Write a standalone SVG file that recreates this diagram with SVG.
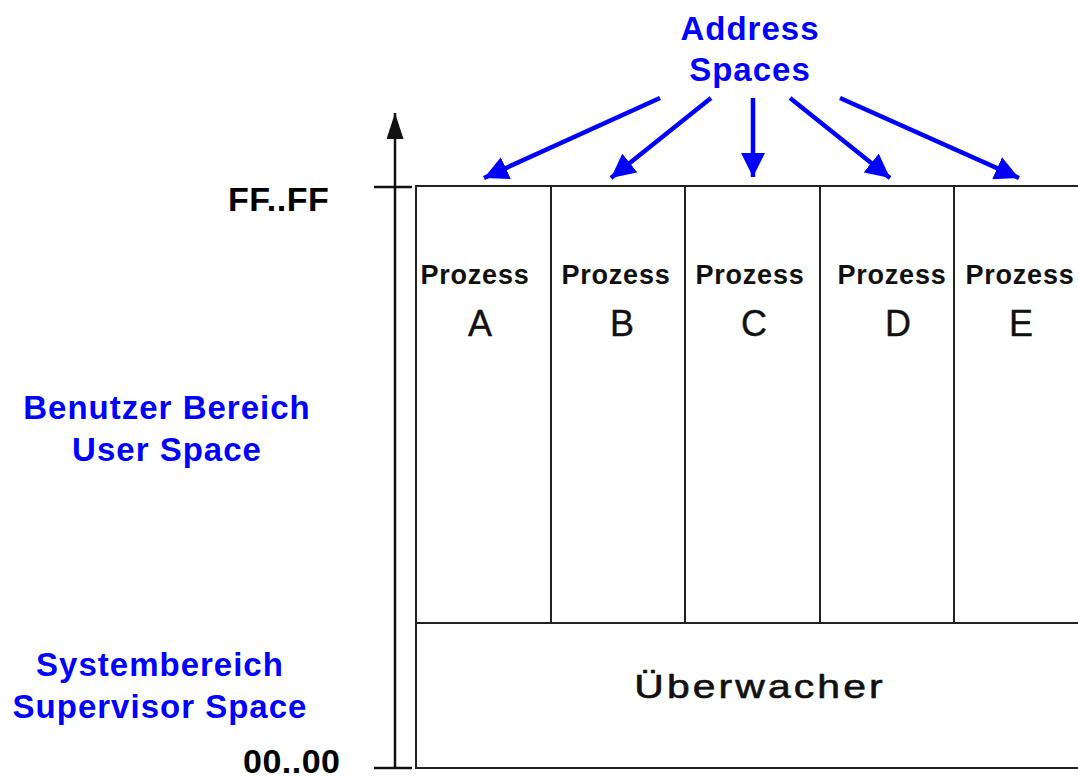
<svg xmlns="http://www.w3.org/2000/svg" width="1078" height="778" viewBox="0 0 1078 778">
  <style>
    .frame { fill: none; stroke: #222; stroke-width: 2; }
    .axis { fill: none; stroke: #111; stroke-width: 2.5; }
    .ptr { fill: none; stroke: #0000ff; stroke-width: 4.5; }
    .blue { font-family: "Liberation Sans", Arial, sans-serif; font-weight: bold; font-size: 33px; fill: #0000ff; text-anchor: middle; letter-spacing: 1px; }
    .addr { font-family: "Liberation Sans", Arial, sans-serif; font-weight: bold; font-size: 34px; fill: #000; letter-spacing: 0.5px; }
    .proc { font-family: "Liberation Sans", Arial, sans-serif; font-weight: bold; font-size: 27px; fill: #111; text-anchor: middle; letter-spacing: 0.8px; }
    .letter { font-family: "Liberation Sans", Arial, sans-serif; font-size: 36px; fill: #111; text-anchor: middle; stroke: #111; stroke-width: 0.4; }
    .sup { font-family: "Liberation Sans", Arial, sans-serif; font-size: 33px; fill: #111; text-anchor: middle; letter-spacing: 2.5px; stroke: #111; stroke-width: 0.6; }
  </style>
  <defs>
    <marker id="bluehead" viewBox="0 0 24 24" refX="24" refY="12" markerWidth="24" markerHeight="24" markerUnits="userSpaceOnUse" orient="auto">
      <path d="M0,0 L24,12 L0,24 Z" fill="#0000ff"/>
    </marker>
    <marker id="axishead" viewBox="0 0 26 17" refX="26" refY="8.5" markerWidth="26" markerHeight="17" markerUnits="userSpaceOnUse" orient="auto">
      <path d="M0,0 L26,8.5 L0,17 Z" fill="#111"/>
    </marker>
  </defs>

  <rect width="1078" height="778" fill="#fff"/>

  <!-- address axis with end ticks -->
  <g id="axis">
    <line class="axis" x1="395" y1="769" x2="395" y2="113" marker-end="url(#axishead)"/>
    <line class="axis" x1="374" y1="187" x2="412" y2="187"/>
    <line class="axis" x1="374" y1="768" x2="412" y2="768"/>
    <text class="addr" x="228" y="211">FF..FF</text>
    <text class="addr" x="243" y="773">00..00</text>
  </g>

  <!-- region labels -->
  <g id="user-space-label">
    <text class="blue" x="167" y="419">Benutzer Bereich</text>
    <text class="blue" x="167" y="461">User Space</text>
  </g>
  <g id="supervisor-space-label">
    <text class="blue" x="160" y="676">Systembereich</text>
    <text class="blue" x="160" y="718">Supervisor Space</text>
  </g>
  <g id="address-spaces-label">
    <text class="blue" x="750" y="40">Address</text>
    <text class="blue" x="750" y="81">Spaces</text>
  </g>

  <!-- process columns -->
  <g id="prozess-a">
    <rect class="frame" x="416" y="186" width="135" height="437"/>
    <text class="proc" x="475" y="284">Prozess</text>
    <text class="letter" x="480" y="336">A</text>
  </g>
  <g id="prozess-b">
    <rect class="frame" x="551" y="186" width="134" height="437"/>
    <text class="proc" x="616" y="284">Prozess</text>
    <text class="letter" x="622" y="336">B</text>
  </g>
  <g id="prozess-c">
    <rect class="frame" x="685" y="186" width="135" height="437"/>
    <text class="proc" x="750" y="284">Prozess</text>
    <text class="letter" x="754" y="336">C</text>
  </g>
  <g id="prozess-d">
    <rect class="frame" x="820" y="186" width="134" height="437"/>
    <text class="proc" x="892" y="284">Prozess</text>
    <text class="letter" x="898" y="336">D</text>
  </g>
  <g id="prozess-e">
    <path class="frame" d="M1080,186 L954,186 L954,623 L1080,623"/>
    <text class="proc" x="1020" y="284">Prozess</text>
    <text class="letter" x="1021" y="336">E</text>
  </g>

  <!-- supervisor region; its label uses a wide, extended letterform -->
  <g id="ueberwacher">
    <path class="frame" d="M1080,623 L416,623 L416,768 L1080,768"/>
    <text class="sup" transform="translate(760,698) scale(1.24,1)">Überwacher</text>
  </g>

  <!-- pointers from the label to each address space -->
  <g id="connectors">
    <line class="ptr" x1="660" y1="98" x2="484" y2="178" marker-end="url(#bluehead)"/>
    <line class="ptr" x1="711" y1="98" x2="611" y2="178" marker-end="url(#bluehead)"/>
    <line class="ptr" x1="753" y1="98" x2="753" y2="177" marker-end="url(#bluehead)"/>
    <line class="ptr" x1="790" y1="98" x2="890" y2="178" marker-end="url(#bluehead)"/>
    <line class="ptr" x1="840" y1="98" x2="1019" y2="178" marker-end="url(#bluehead)"/>
  </g>
</svg>
